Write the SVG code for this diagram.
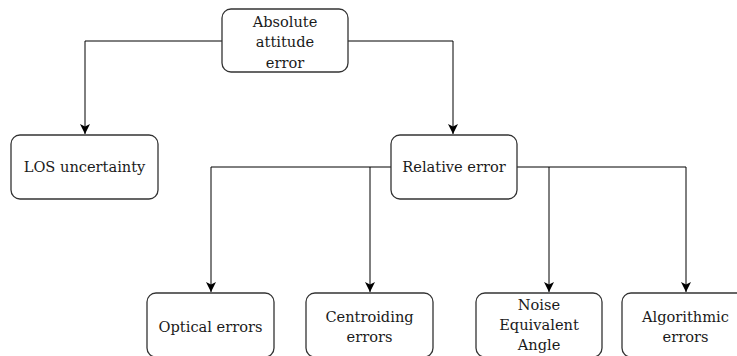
<svg xmlns="http://www.w3.org/2000/svg" width="737" height="356" viewBox="0 0 737 356">
  <style>
    .box { fill: #ffffff; stroke: #333333; stroke-width: 1.3; }
    .lbl { font-family: "DejaVu Serif", "Liberation Serif", serif; font-size: 14.6px; fill: #1a1a1a; text-anchor: middle; }
    .edge { fill: none; stroke: #000000; stroke-width: 1; }
  </style>
  <defs>
    <marker id="arrow" viewBox="0 0 10 10" refX="10" refY="5" markerWidth="10" markerHeight="10" markerUnits="userSpaceOnUse" orient="auto">
      <path d="M0,0 L10,5 L0,10 L2.5,5 Z" fill="#000000"/>
    </marker>
  </defs>

  <g id="connectors">
    <path class="edge" d="M222,41 H85 V134" marker-end="url(#arrow)"/>
    <path class="edge" d="M348,41 H453 V134" marker-end="url(#arrow)"/>
    <path class="edge" d="M391,167 H211 V292" marker-end="url(#arrow)"/>
    <path class="edge" d="M370,167 V292" marker-end="url(#arrow)"/>
    <path class="edge" d="M517,167 H686 V292" marker-end="url(#arrow)"/>
    <path class="edge" d="M549,167 V292" marker-end="url(#arrow)"/>
  </g>

  <g id="absolute-attitude-error">
    <rect class="box" x="222" y="9" width="126" height="63" rx="9"/>
    <text class="lbl" x="285" y="26.5">Absolute</text>
    <text class="lbl" x="285" y="47">attitude</text>
    <text class="lbl" x="285" y="67.5">error</text>
  </g>

  <g id="los-uncertainty">
    <rect class="box" x="11" y="135" width="147" height="64" rx="9"/>
    <text class="lbl" x="84.5" y="172">LOS uncertainty</text>
  </g>

  <g id="relative-error">
    <rect class="box" x="391" y="135" width="126" height="64" rx="9"/>
    <text class="lbl" x="454" y="172">Relative error</text>
  </g>

  <g id="optical-errors">
    <rect class="box" x="147" y="293" width="127" height="64" rx="9"/>
    <text class="lbl" x="210.5" y="332">Optical errors</text>
  </g>

  <g id="centroiding-errors">
    <rect class="box" x="306" y="293" width="127" height="64" rx="9"/>
    <text class="lbl" x="369.5" y="322">Centroiding</text>
    <text class="lbl" x="369.5" y="341.5">errors</text>
  </g>

  <g id="noise-equivalent-angle">
    <rect class="box" x="476" y="293" width="126" height="64" rx="9"/>
    <text class="lbl" x="539" y="310">Noise</text>
    <text class="lbl" x="539" y="330">Equivalent</text>
    <text class="lbl" x="539" y="350">Angle</text>
  </g>

  <g id="algorithmic-errors">
    <rect class="box" x="622" y="293" width="127" height="64" rx="9"/>
    <text class="lbl" x="685.5" y="322">Algorithmic</text>
    <text class="lbl" x="685.5" y="341.5">errors</text>
  </g>
</svg>
